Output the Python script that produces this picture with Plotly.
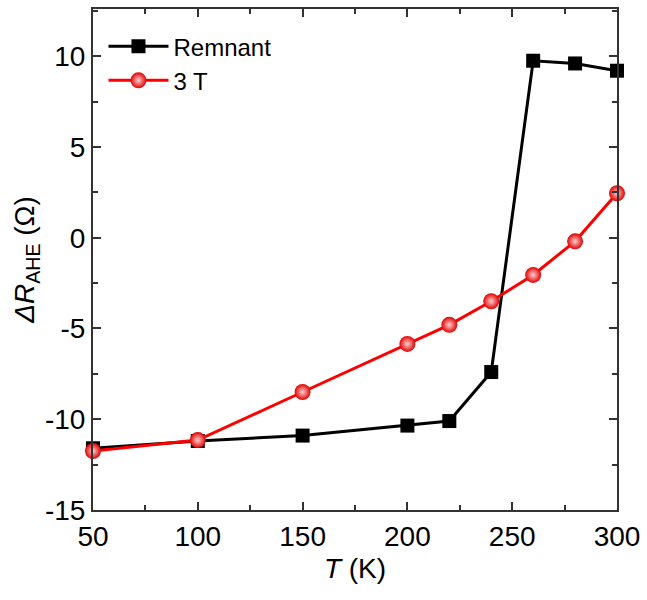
import plotly.graph_objects as go

temps = [50, 100, 150, 200, 220, 240, 260, 280, 300]
remnant = [-11.6, -11.2, -10.9, -10.35, -10.1, -7.4, 9.75, 9.6, 9.2]
field_3t = [-11.75, -11.15, -8.5, -5.85, -4.8, -3.5, -2.05, -0.2, 2.45]

x_ticks = [50, 100, 150, 200, 250, 300]
y_ticks = [-15, -10, -5, 0, 5, 10]
y_ticklabels = ["-15", "-10", "-5", "0", "5", "10"]

font_family = "Liberation Sans, Arial, sans-serif"

fig = go.Figure()
fig.add_trace(go.Scatter(
    x=temps, y=remnant, name="Remnant", mode="lines+markers",
    line=dict(color="black", width=3),
    marker=dict(symbol="square", size=14, color="black"),
    cliponaxis=False,
))
fig.add_trace(go.Scatter(
    x=temps, y=field_3t, name="3 T", mode="lines+markers",
    line=dict(color="#ff0000", width=3),
    marker=dict(symbol="circle", size=16, color="#e00000",
                gradient=dict(type="radial", color="#ffd0d0"),
                line=dict(width=0)),
    cliponaxis=False,
))

axis_common = dict(
    showline=True, linecolor="#333333", linewidth=2, mirror="allticks",
    ticks="inside", ticklen=8, tickwidth=1.5, tickcolor="#333333",
    showgrid=False, zeroline=False,
    tickfont=dict(family=font_family, size=28, color="black"),
)

fig.update_layout(
    width=647, height=600,
    margin=dict(l=93, r=29, t=7, b=90),
    paper_bgcolor="white", plot_bgcolor="white",
    showlegend=True,
    legend=dict(x=0.02, y=0.97, xanchor="left", yanchor="top",
                font=dict(family=font_family, size=24, color="black"),
                bgcolor="rgba(0,0,0,0)", itemwidth=60, tracegroupgap=0),
    xaxis=dict(range=[50, 300], tickvals=x_ticks,
               minor=dict(ticks="inside", ticklen=5, tickwidth=1.5, tickcolor="#333333", dtick=25, tick0=50),
               title=dict(text="<i>T</i> (K)", font=dict(family=font_family, size=28, color="black"), standoff=8),
               **axis_common),
    yaxis=dict(range=[-15, 12.6], tickvals=y_ticks, ticktext=y_ticklabels,
               minor=dict(ticks="inside", ticklen=5, tickwidth=1.5, tickcolor="#333333", dtick=2.5, tick0=-15),
               title=dict(text="<i>ΔR</i><sub>AHE</sub> (Ω)", font=dict(family=font_family, size=28, color="black"), standoff=2),
               **axis_common),
)

fig.write_html("out.html")
